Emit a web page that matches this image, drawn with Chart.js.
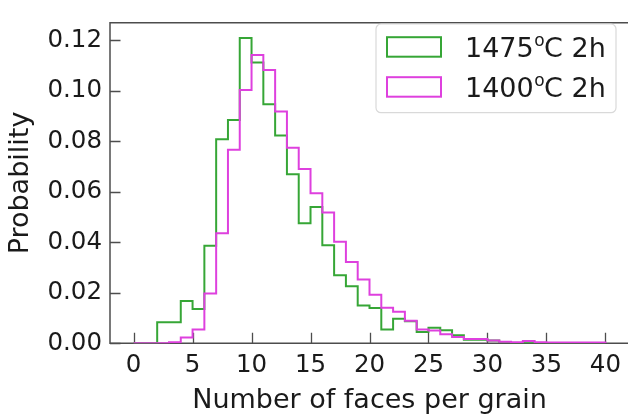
<!DOCTYPE html>
<html>
<head>
<meta charset="utf-8">
<title>Faces per grain</title>
<script src="https://cdn.jsdelivr.net/npm/chart.js@4/dist/chart.umd.min.js"></script>
<style>
    html, body { margin: 0; padding: 0; background: #fff; overflow: hidden; }
    #wrap { width: 632px; height: 414px; }
</style>
</head>
<body>
<div id="wrap"><canvas id="faces-chart" width="632" height="414"></canvas></div>
<script>
// Histogram bin edges (number of faces) and probabilities per bin
const binEdges = [0, 1, 2, 3, 4, 5, 6, 7, 8, 9, 10, 11, 12, 13, 14, 15, 16, 17, 18, 19, 20,
    21, 22, 23, 24, 25, 26, 27, 28, 29, 30, 31, 32, 33, 34, 35, 36, 37, 38, 39, 40];

const prob1475 = [0, 0, 0.0083, 0.0083, 0.0168, 0.0136, 0.0386, 0.0808, 0.0885, 0.1209,
    0.1112, 0.0947, 0.0823, 0.0670, 0.0476, 0.0540, 0.0388, 0.0270, 0.0226, 0.0150,
    0.0140, 0.0055, 0.0097, 0.0087, 0.0045, 0.0062, 0.0052, 0.0032, 0.0014, 0.0014,
    0.0011, 0.0004, 0, 0, 0, 0, 0, 0, 0, 0];

const prob1400 = [0, 0, 0, 0.0004, 0.0023, 0.0055, 0.0197, 0.0436, 0.0767, 0.1003,
    0.1142, 0.1083, 0.0918, 0.0775, 0.0690, 0.0594, 0.0518, 0.0402, 0.0322, 0.0253,
    0.0192, 0.0141, 0.0125, 0.0089, 0.0055, 0.0051, 0.0036, 0.0025, 0.0017, 0.0017,
    0.0011, 0.0006, 0.0004, 0.0009, 0.0004, 0.0003, 0.0003, 0.0003, 0.0003, 0.0003];

const xTicks = [0, 5, 10, 15, 20, 25, 30, 35, 40];
const yTicks = [0, 0.02, 0.04, 0.06, 0.08, 0.10, 0.12];

const seriesLabels = [
    { base: '1475', sup: 'o', rest: 'C 2h' },
    { base: '1400', sup: 'o', rest: 'C 2h' }
];
const seriesColors = ['#36a636', '#de40de'];

Chart.defaults.font.family = "'DejaVu Sans', sans-serif";
Chart.defaults.color = '#1a1a1a';

// Step outline: start on the baseline, one point per bin, back down at the last edge
function stepPoints(values) {
    const pts = [{ x: binEdges[0], y: 0 }];
    values.forEach((v, i) => pts.push({ x: binEdges[i], y: v }));
    pts.push({ x: binEdges[binEdges.length - 1], y: 0 });
    return pts;
}

// Frame on left/top/bottom with inward tick marks
const framePlugin = {
    id: 'frame',
    beforeDatasetsDraw(chart) {
        const { ctx, chartArea: a, scales } = chart;
        ctx.save();
        ctx.strokeStyle = '#4d4d4d';
        ctx.lineWidth = 1.5;
        ctx.beginPath();
        ctx.moveTo(a.right, a.bottom);
        ctx.lineTo(a.left, a.bottom);
        ctx.lineTo(a.left, a.top);
        ctx.lineTo(a.right, a.top);
        ctx.lineTo(a.right, a.bottom);
        ctx.stroke();

        ctx.lineWidth = 1.3;
        ctx.beginPath();
        xTicks.forEach(t => {
            const x = Math.round(scales.x.getPixelForValue(t)) + 0.5;
            ctx.moveTo(x, a.bottom);
            ctx.lineTo(x, a.bottom - 10.5);
        });
        yTicks.forEach(t => {
            const y = Math.round(scales.y.getPixelForValue(t)) + 0.5;
            ctx.moveTo(a.left, y);
            ctx.lineTo(a.left + 10.5, y);
        });
        ctx.stroke();
        ctx.restore();
    }
};

// Legend box in the upper right of the plot
const legendPlugin = {
    id: 'boxLegend',
    afterDraw(chart) {
        const { ctx } = chart;
        const box = { x: 376, y: 24, w: 240, h: 88.7, r: 5 };
        ctx.save();
        ctx.beginPath();
        ctx.roundRect(box.x, box.y, box.w, box.h, box.r);
        ctx.fillStyle = 'rgba(255,255,255,0.8)';
        ctx.fill();
        ctx.strokeStyle = '#d9d9d9';
        ctx.lineWidth = 1.2;
        ctx.stroke();

        seriesLabels.forEach((lab, i) => {
            const base = 56.7 + i * 40;
            ctx.strokeStyle = seriesColors[i];
            ctx.lineWidth = 2;
            ctx.strokeRect(387, base - 19.5, 54, 19.5);

            ctx.fillStyle = '#1a1a1a';
            ctx.textBaseline = 'alphabetic';
            ctx.textAlign = 'left';
            let x = 465;
            ctx.font = "27px 'DejaVu Sans'";
            ctx.fillText(lab.base, x, base);
            x += ctx.measureText(lab.base).width + 0.5;
            ctx.font = "17px 'DejaVu Sans'";
            ctx.fillText(lab.sup, x, base - 11);
            x += ctx.measureText(lab.sup).width - 0.5;
            ctx.font = "27px 'DejaVu Sans'";
            ctx.fillText(lab.rest, x, base);
        });
        ctx.restore();
    }
};

const ctx = document.getElementById('faces-chart').getContext('2d');
new Chart(ctx, {
    type: 'line',
    data: {
        datasets: [
            {
                label: '1475oC 2h',
                data: stepPoints(prob1475),
                borderColor: seriesColors[0],
                borderWidth: 2,
                stepped: 'before',
                pointRadius: 0,
                fill: false,
                order: 2
            },
            {
                label: '1400oC 2h',
                data: stepPoints(prob1400),
                borderColor: seriesColors[1],
                borderWidth: 2,
                stepped: 'before',
                pointRadius: 0,
                fill: false,
                order: 1
            }
        ]
    },
    options: {
        responsive: false,
        animation: false,
        devicePixelRatio: 1,
        layout: { padding: { top: 11, right: 3, left: 0, bottom: 0 } },
        plugins: {
            legend: { display: false },
            tooltip: { enabled: false }
        },
        scales: {
            x: {
                type: 'linear',
                min: -2,
                max: 42,
                grid: { display: false, drawTicks: false },
                border: { display: false },
                afterBuildTicks: s => { s.ticks = xTicks.map(v => ({ value: v })); },
                afterFit: s => { s.height = 70.7; },
                ticks: {
                    font: { size: 24.5 },
                    padding: 8,
                    maxRotation: 0,
                    callback: v => String(v)
                },
                title: {
                    display: true,
                    text: 'Number of faces per grain',
                    font: { size: 27, lineHeight: 1.0 },
                    padding: { top: 0, bottom: 0 }
                }
            },
            y: {
                min: 0,
                max: 0.127,
                grid: { display: false, drawTicks: false },
                border: { display: false },
                afterBuildTicks: s => { s.ticks = yTicks.map(v => ({ value: v })); },
                afterFit: s => { s.width = 110; },
                ticks: {
                    font: { size: 24.5 },
                    padding: 8,
                    callback: v => v.toFixed(2)
                },
                title: {
                    display: true,
                    text: 'Probability',
                    font: { size: 27, lineHeight: 1.2 },
                    padding: { top: 5, bottom: 0 }
                }
            }
        }
    },
    plugins: [framePlugin, legendPlugin]
});
</script>
</body>
</html>
